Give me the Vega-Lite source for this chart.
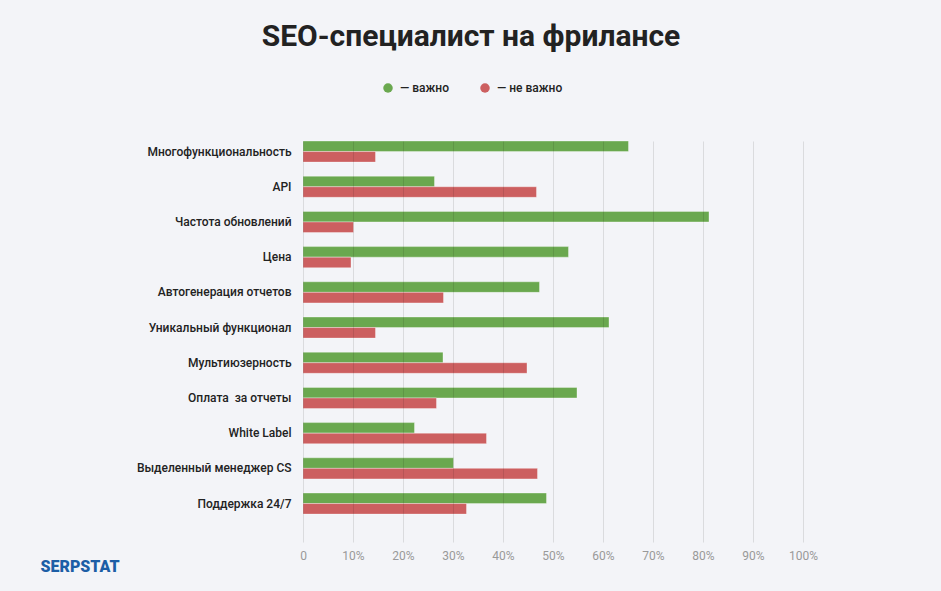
{
  "$schema": "https://vega.github.io/schema/vega-lite/v6.json",
  "width": 500,
  "height": 401,
  "autosize": {"type": "none"},
  "padding": {"left": 303, "top": 141, "right": 138, "bottom": 49},
  "background": "#f3f4f8",
  "title": {
    "text": "SEO-специалист на фрилансе",
    "anchor": "middle",
    "frame": "group",
    "dx": -82,
    "fontSize": 30,
    "font": "Roboto",
    "fontWeight": "bold",
    "color": "#222222",
    "offset": 30
  },
  "data": {
    "values": [
      {"feature": "Многофункциональность", "series": "важно", "value": 65.1},
      {"feature": "Многофункциональность", "series": "не важно", "value": 14.5},
      {"feature": "API", "series": "важно", "value": 26.3},
      {"feature": "API", "series": "не важно", "value": 46.7},
      {"feature": "Частота обновлений", "series": "важно", "value": 81.2},
      {"feature": "Частота обновлений", "series": "не важно", "value": 10.1},
      {"feature": "Цена", "series": "важно", "value": 53.1},
      {"feature": "Цена", "series": "не важно", "value": 9.6},
      {"feature": "Автогенерация отчетов", "series": "важно", "value": 47.3},
      {"feature": "Автогенерация отчетов", "series": "не важно", "value": 28.1},
      {"feature": "Уникальный функционал", "series": "важно", "value": 61.2},
      {"feature": "Уникальный функционал", "series": "не важно", "value": 14.5},
      {"feature": "Мультиюзерность", "series": "важно", "value": 28.0},
      {"feature": "Мультиюзерность", "series": "не важно", "value": 44.8},
      {"feature": "Оплата \u00a0за отчеты", "series": "важно", "value": 54.8},
      {"feature": "Оплата \u00a0за отчеты", "series": "не важно", "value": 26.7},
      {"feature": "White Label", "series": "важно", "value": 22.3},
      {"feature": "White Label", "series": "не важно", "value": 36.7},
      {"feature": "Выделенный менеджер CS", "series": "важно", "value": 30.1},
      {"feature": "Выделенный менеджер CS", "series": "не важно", "value": 46.9},
      {"feature": "Поддержка 24/7", "series": "важно", "value": 48.7},
      {"feature": "Поддержка 24/7", "series": "не важно", "value": 32.7}
    ]
  },
  "mark": {
    "type": "bar",
    "stroke": "#ffffff",
    "strokeOpacity": 0.35,
    "strokeWidth": 1
  },
  "encoding": {
    "y": {
      "field": "feature",
      "type": "nominal",
      "sort": null,
      "scale": {"paddingInner": 0.4, "paddingOuter": 0.396, "align": 0},
      "axis": {
        "title": null,
        "ticks": false,
        "domain": false,
        "grid": false,
        "labelPadding": 12,
        "labelFont": "Roboto",
        "labelFontSize": 12,
        "labelFontWeight": 500,
        "labelColor": "#222222",
        "labelLimit": 300
      }
    },
    "yOffset": {"field": "series", "type": "nominal", "sort": ["важно", "не важно"], "scale": {"paddingInner": 0, "paddingOuter": 0}},
    "x": {
      "field": "value",
      "type": "quantitative",
      "scale": {"domain": [0, 100], "nice": false},
      "axis": {
        "values": [0, 10, 20, 30, 40, 50, 60, 70, 80, 90, 100],
        "labelExpr": "datum.value == 0 ? '0' : datum.value + '%'",
        "labelFlush": false,
        "domain": false,
        "ticks": false,
        "grid": true,
        "gridColor": "#000000",
        "gridOpacity": 0.1,
        "gridWidth": 1,
        "zindex": 1,
        "labelPadding": 8,
        "labelFont": "Roboto",
        "labelFontSize": 12,
        "labelColor": "#999999",
        "title": "SERPSTAT",
        "titleAnchor": "start",
        "titleAlign": "left",
        "titleBaseline": "middle",
        "titleX": -263,
        "titleY": 24,
        "titleFont": "Roboto",
        "titleFontSize": 16,
        "titleFontWeight": 900,
        "titleColor": "#1c5ea6"
      }
    },
    "color": {
      "field": "series",
      "type": "nominal",
      "sort": ["важно", "не важно"],
      "scale": {"domain": ["важно", "не важно"], "range": ["#6aa84f", "#cc5f60"]},
      "legend": {
        "title": null,
        "orient": "none",
        "direction": "horizontal",
        "legendX": 79,
        "legendY": -59,
        "symbolType": "circle",
        "symbolSize": 90,
        "symbolStrokeWidth": 0,
        "labelExpr": "'— ' + datum.label",
        "labelFont": "Roboto",
        "labelFontSize": 12,
        "labelFontWeight": 500,
        "labelColor": "#222222",
        "labelOffset": 6,
        "columnPadding": 30
      }
    }
  },
  "config": {"view": {"stroke": null}}
}
